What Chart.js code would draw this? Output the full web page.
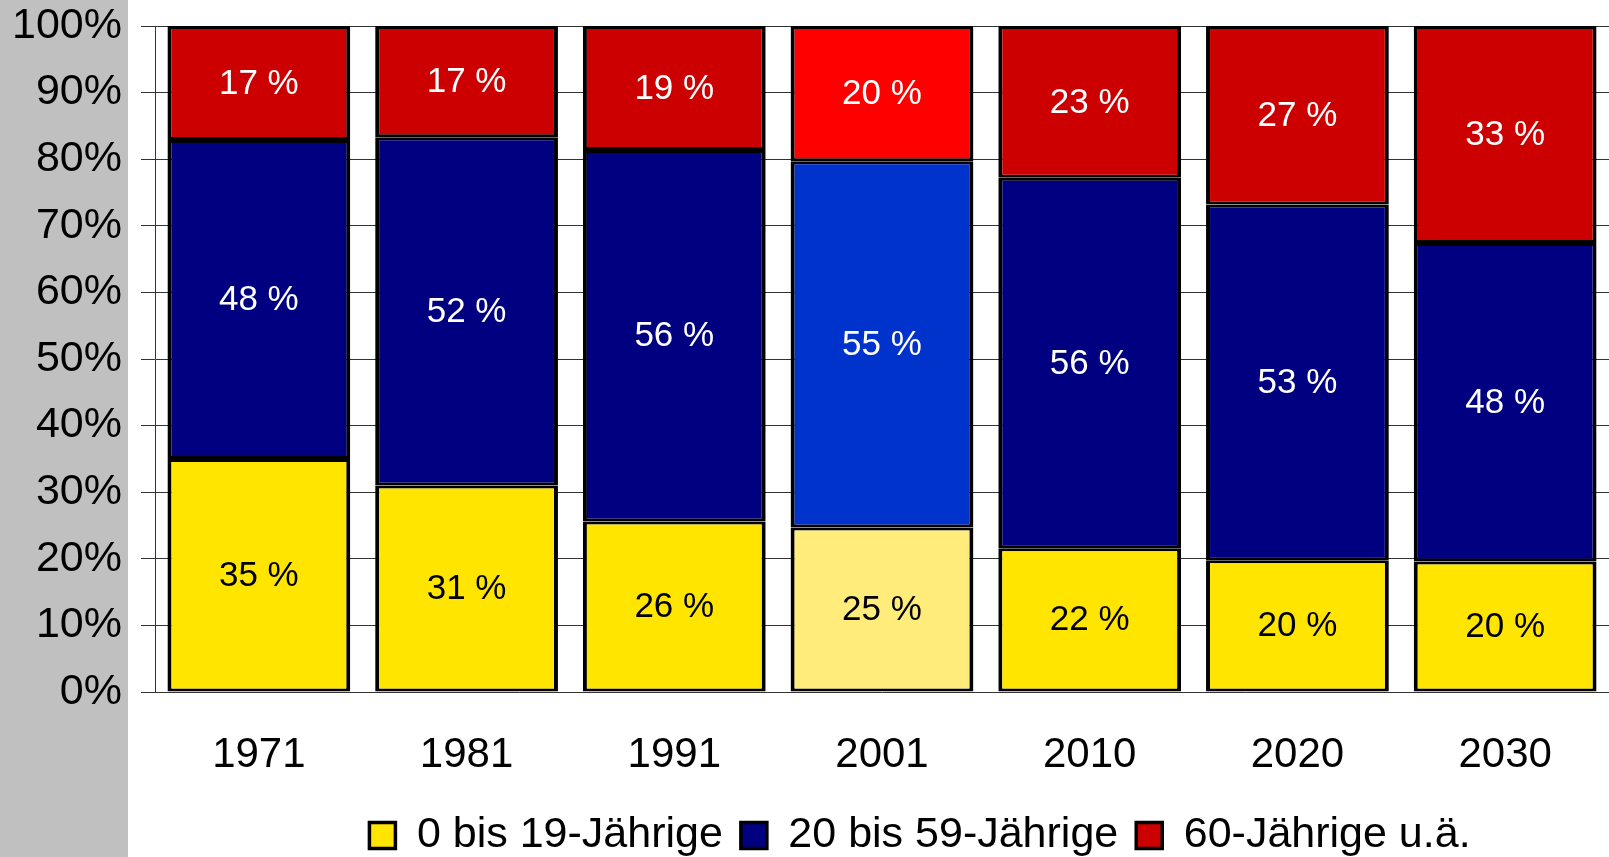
<!DOCTYPE html>
<html>
<head>
<meta charset="utf-8">
<script src="https://cdn.jsdelivr.net/npm/chart.js@4.4.1/dist/chart.umd.min.js"></script>
<style>
  html, body { margin: 0; padding: 0; background: #fff; overflow: hidden; }
  #c { display: block; }
</style>
</head>
<body>
<canvas id="c" width="1609" height="857"></canvas>
<script>
  const YEARS = ["1971", "1981", "1991", "2001", "2010", "2020", "2030"];
  const YOUNG = [35.0, 31.0, 25.6, 24.7, 21.6, 19.8, 19.6];   // 0 bis 19
  const MIDDLE = [47.9, 52.3, 55.8, 55.0, 55.6, 53.4, 47.8];  // 20 bis 59
  const OLD = [17.1, 16.7, 18.6, 20.3, 22.8, 26.8, 32.6];     // 60+
  const NAMES = ["0 bis 19-Jährige", "20 bis 59-Jährige", "60-Jährige u.ä."];
  const FILL = ["#FFE500", "#000080", "#CC0000"];
  const FILL_2001 = ["#FFEC7A", "#0033CC", "#FF0000"];
  const TEXT_COLOR = ["#000", "#fff", "#fff"];
  const HIGHLIGHT = 3; // 2001 census bar

  const FONT = '"Liberation Sans", Arial, sans-serif';

  const background = {
    id: "background",
    beforeDraw(chart) {
      const { ctx, width, height } = chart;
      ctx.save();
      ctx.fillStyle = "#fff";
      ctx.fillRect(0, 0, width, height);
      ctx.fillStyle = "#C0C0C0";
      ctx.fillRect(0, 0, 128, height);
      ctx.restore();
    }
  };

  // nudge the legend row so it sits centred under the white part, near the bottom edge
  const legendPlacement = {
    id: "legendPlacement",
    afterLayout(chart) {
      const lg = chart.legend;
      lg.left += 38;
      lg.right += 38;
      lg.top += 10;
      lg.bottom += 10;
    }
  };

  const barLabels = {
    id: "barLabels",
    afterDatasetsDraw(chart) {
      const ctx = chart.ctx;
      ctx.save();
      ctx.font = "35px " + FONT;
      ctx.textAlign = "center";
      ctx.textBaseline = "middle";
      chart.data.datasets.forEach((ds, i) => {
        chart.getDatasetMeta(i).data.forEach((bar, j) => {
          ctx.fillStyle = TEXT_COLOR[i];
          ctx.fillText(Math.round(ds.data[j]) + " %", bar.x, (bar.y + bar.base) / 2 + 1);
        });
      });
      ctx.restore();
    }
  };

  const mkSet = (label, data, k) => ({
    label,
    data,
    backgroundColor: (c) => (c.dataIndex === HIGHLIGHT ? FILL_2001[k] : FILL[k]),
    borderColor: "#000",
    borderWidth: { left: 4, right: 4, top: 3, bottom: 3 },
    borderSkipped: false,
    categoryPercentage: 1,
    barPercentage: 0.88
  });

  new Chart(document.getElementById("c"), {
    type: "bar",
    data: {
      labels: YEARS,
      datasets: [
        mkSet(NAMES[0], YOUNG, 0),
        mkSet(NAMES[1], MIDDLE, 1),
        mkSet(NAMES[2], OLD, 2)
      ]
    },
    options: {
      responsive: false,
      animation: false,
      layout: { padding: { top: 26, right: 0, bottom: 0, left: 0 } },
      plugins: {
        tooltip: { enabled: false },
        legend: {
          position: "bottom",
          fullSize: false,
          labels: {
            boxWidth: 26,
            boxHeight: 26,
            padding: 18,
            color: "#000",
            font: { size: 43, family: FONT }
          }
        }
      },
      scales: {
        x: {
          stacked: true,
          grid: { display: false, drawTicks: false },
          border: { display: false },
          ticks: { padding: 38, color: "#000", font: { size: 42, family: FONT } },
          afterFit(s) { s.height = 94; }
        },
        y: {
          stacked: true,
          min: 0,
          max: 100,
          grid: { color: "#333", lineWidth: 1, tickLength: 14 },
          border: { color: "#333" },
          ticks: {
            stepSize: 10,
            autoSkip: false,
            padding: 19,
            color: "#000",
            font: { size: 43, family: FONT },
            callback: (v) => v + "%"
          },
          afterFit(s) {
            s.width = 155;
            s.paddingTop = 0;
            s.paddingBottom = 0;
          }
        }
      }
    },
    plugins: [background, legendPlacement, barLabels]
  });
</script>
</body>
</html>
